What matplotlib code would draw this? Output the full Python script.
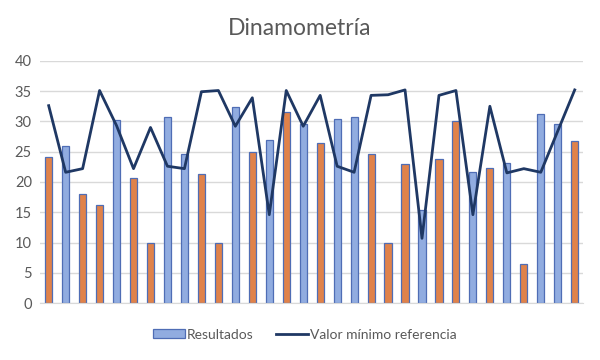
import numpy as np
import matplotlib
matplotlib.use("Agg")
import matplotlib.pyplot as plt
from matplotlib.patches import Patch
from matplotlib.lines import Line2D

# Valores (32 pacientes)
resultados = [24.1, 25.9, 18.0, 16.2, 30.3, 20.6, 10.0, 30.7, 24.6, 21.4,
              9.9, 32.3, 25.0, 26.9, 31.6, 29.6, 26.5, 30.4, 30.8, 24.6,
              9.9, 23.0, 15.4, 23.8, 30.0, 21.7, 22.3, 23.2, 6.5, 31.2,
              29.6, 26.8]
valor_minimo = [32.6, 21.6, 22.2, 35.1, 29.3, 22.2, 29.0, 22.6, 22.2, 34.9,
                35.1, 29.2, 33.9, 14.6, 35.1, 29.2, 34.3, 22.6, 21.6, 34.3,
                34.4, 35.2, 10.7, 34.3, 35.1, 14.6, 32.5, 21.5, 22.2, 21.6,
                28.4, 35.2]
# grupo de cada barra: "n" = naranja, "a" = azul
grupo = ["n", "a", "n", "n", "a", "n", "n", "a", "a", "n",
         "n", "a", "n", "a", "n", "a", "n", "a", "a", "n",
         "n", "n", "a", "n", "n", "a", "n", "a", "n", "a",
         "a", "n"]

plt.rcParams['font.family'] = ['Lato', 'DejaVu Sans']

fig = plt.figure(figsize=(6, 3.6), dpi=100)
ax = fig.add_axes([0.067, 0.158, 0.905, 0.673])

x = np.arange(len(resultados))
colores = {"n": "#E0824A", "a": "#91ACE0"}
ax.bar(x, resultados, width=0.42, color=[colores[g] for g in grupo],
       edgecolor="#4F6DB5", linewidth=0.9, zorder=2)
ax.plot(x, valor_minimo, color="#1F3864", linewidth=2, zorder=3)

ax.set_xlim(-0.5, len(resultados) - 0.5)
ax.set_ylim(0, 40)
ax.set_yticks(range(0, 41, 5))
ax.yaxis.grid(True, color="#D9D9D9", linewidth=1, zorder=0)
ax.set_xticks([])
for s in ["top", "right", "left"]:
    ax.spines[s].set_visible(False)
ax.spines["bottom"].set_color("#D9D9D9")
ax.tick_params(axis="y", length=0, labelsize=10.5, colors="#595959", pad=6)

fig.suptitle("Dinamometría", y=0.95, fontsize=16.5, color="#595959")

handles = [Patch(facecolor="#91ACE0", edgecolor="#4F6DB5", linewidth=0.9),
           Line2D([0], [0], color="#1F3864", linewidth=2)]
fig.legend(handles, ["Resultados", "Valor mínimo referencia"],
           loc="center", bbox_to_anchor=(0.508, 0.07), ncol=2, frameon=False,
           fontsize=10, labelcolor="#595959", handlelength=2.3,
           handleheight=0.6, handletextpad=0.15, columnspacing=1.6)

fig.savefig("out.png", dpi=100)
